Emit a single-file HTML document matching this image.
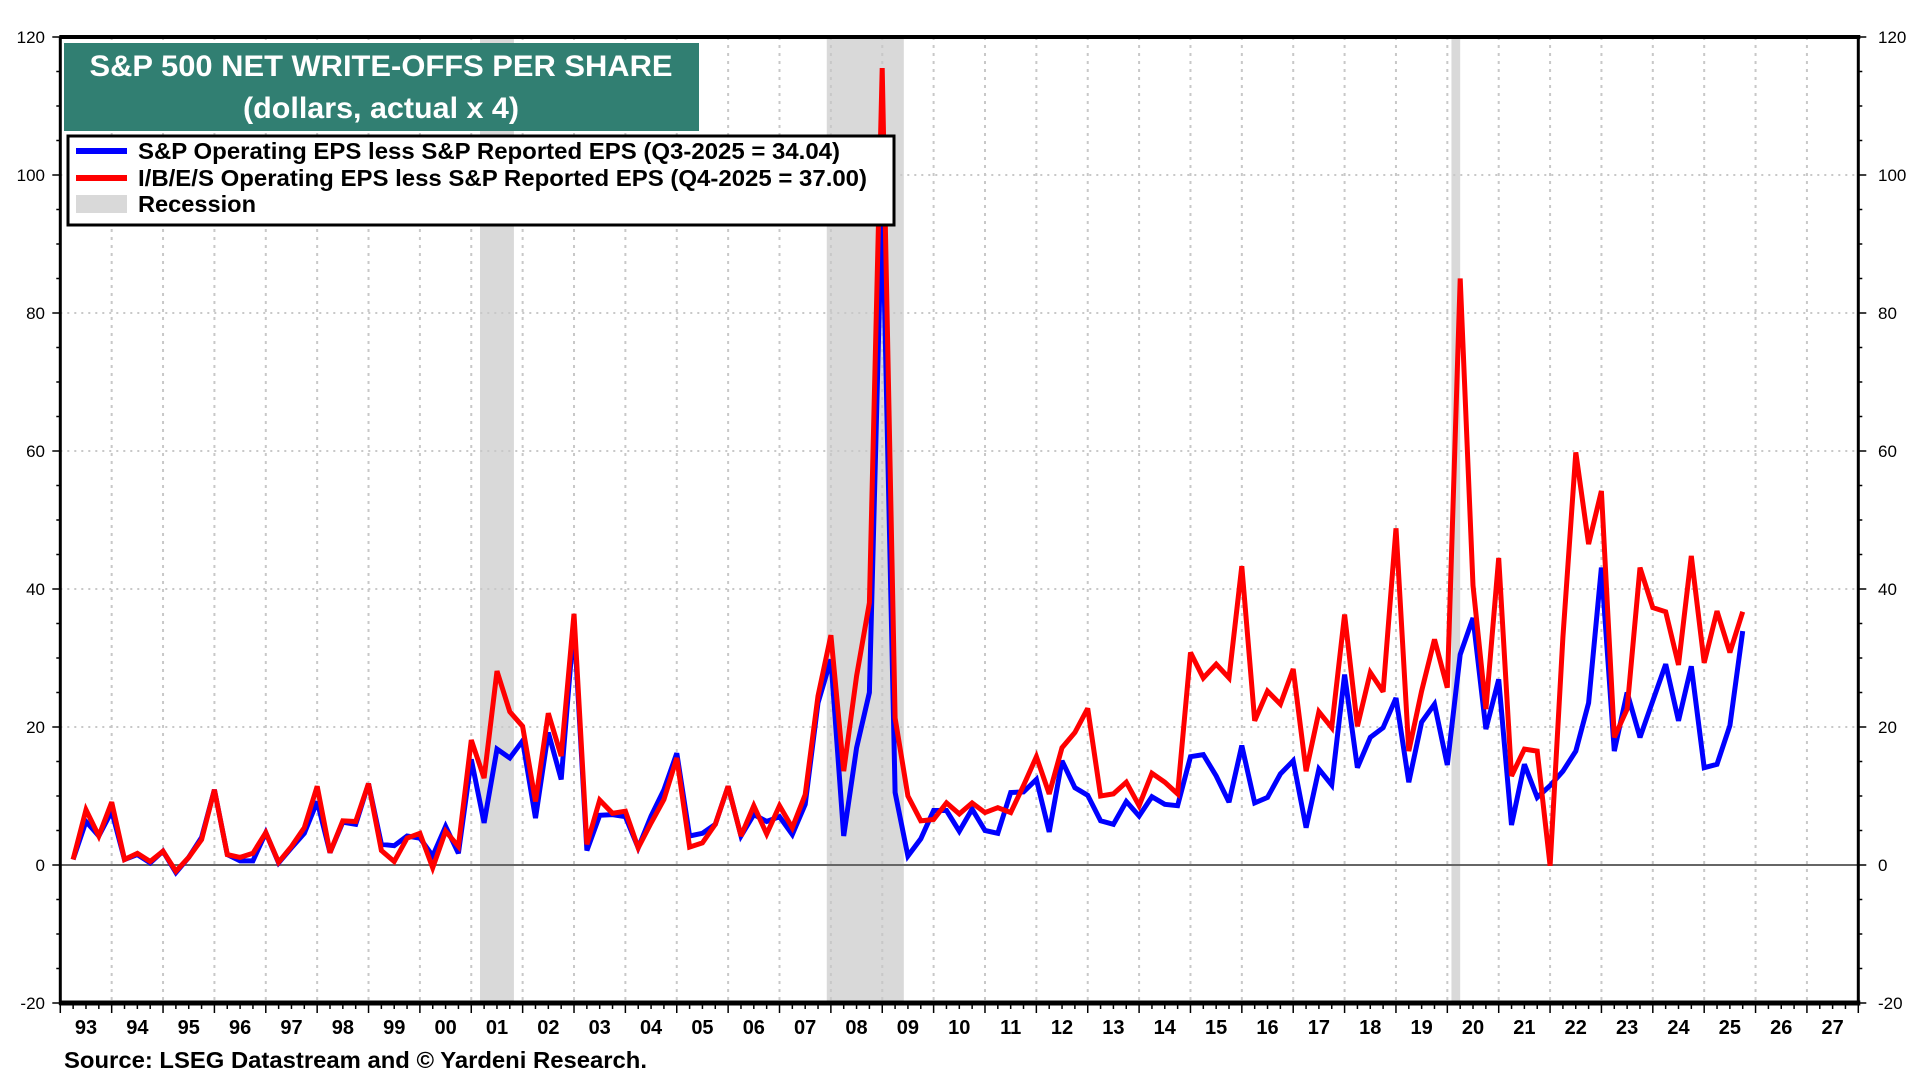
<!DOCTYPE html>
<html><head><meta charset="utf-8"><style>
html,body{margin:0;padding:0;background:#fff;width:1920px;height:1080px;overflow:hidden}
svg{display:block}
text{font-family:"Liberation Sans Narrow","Liberation Sans",sans-serif}
</style></head><body>
<svg id="chart" width="1920" height="1080" viewBox="0 0 1920 1080" xmlns="http://www.w3.org/2000/svg">
<g id="recessions"></g>
<g id="grid"></g>
<g id="series"></g>
<g id="axes"></g>
<g>
<rect x="64" y="43" width="635" height="88" fill="#317f72"/>
<text x="381" y="76" fill="#fff" font-size="30" font-weight="bold" text-anchor="middle" textLength="583" lengthAdjust="spacingAndGlyphs">S&amp;P 500 NET WRITE-OFFS PER SHARE</text>
<text x="381" y="118" fill="#fff" font-size="30" font-weight="bold" text-anchor="middle" textLength="276" lengthAdjust="spacingAndGlyphs">(dollars, actual x 4)</text>
</g>
<g>
<rect x="68" y="136" width="826" height="89" fill="#fff" stroke="#000" stroke-width="3"/>
<g><line x1="76" y1="151" x2="127" y2="151" stroke="#0000ff" stroke-width="6"/><text x="138" y="159" font-size="23" font-weight="bold" textLength="702" lengthAdjust="spacingAndGlyphs">S&amp;P Operating EPS less S&amp;P Reported EPS (Q3-2025 = 34.04)</text></g>
<g><line x1="76" y1="178" x2="127" y2="178" stroke="#ff0000" stroke-width="6"/><text x="138" y="186" font-size="23" font-weight="bold" textLength="729" lengthAdjust="spacingAndGlyphs">I/B/E/S Operating EPS less S&amp;P Reported EPS (Q4-2025 = 37.00)</text></g>
<g><rect x="76" y="195" width="51" height="18" fill="#d9d9d9"/><text x="138" y="212" font-size="23" font-weight="bold" textLength="118" lengthAdjust="spacingAndGlyphs">Recession</text></g>
</g>
<text x="64" y="1068" font-size="23" font-weight="bold" textLength="583" lengthAdjust="spacingAndGlyphs">Source: LSEG Datastream and © Yardeni Research.</text>
</svg>
<script>
const startYear = 1993;
const redValues = [0.8,8.0,4.2,9.1, 0.8,1.7,0.5,2.0, -0.9,1.1,3.7,10.9, 1.5,1.1,1.7,4.7, 0.4,2.7,5.4,11.4, 1.8,6.4,6.3,11.8, 2.1,0.5,3.9,4.6, -0.4,4.9,2.7,18.1,
 12.6,28.1,22.2,20.1, 9.2,22.0,15.8,36.4, 3.0,9.4,7.5,7.8, 2.5,6.1,9.5,15.5, 2.6,3.2,5.9,11.4, 4.2,8.6,4.5,8.6, 5.4,10.2,24.5,33.3, 13.6,27.4,38.0,115.5,
 21.3,10.0,6.4,6.6, 9.0,7.4,9.0,7.6, 8.3,7.6,11.5,15.7, 10.3,17.0,19.2,22.7, 10.0,10.3,12.0,8.6, 13.3,12.0,10.3,30.8, 27.1,29.1,27.1,43.3, 20.9,25.2,23.3,28.4,
 13.6,22.2,19.9,36.3, 20.1,27.9,25.1,48.8, 16.5,25.2,32.7,25.7, 85,40.5,22.6,44.5, 12.9,16.8,16.5,-0.1, 33,59.8,46.5,54.2, 18.5,22.6,43.1,37.3, 36.7,29.0,44.8,29.3, 36.8,30.8,36.7];
const blueValues = [0.8,6.3,4.2,7.8, 0.8,1.5,0.3,2.0, -1.1,1.1,4.0,10.9, 1.5,0.6,0.6,4.7, 0.3,2.5,4.6,9.2, 1.8,6.2,5.9,11.8, 3.0,2.8,4.2,3.9, 1.3,5.6,1.7,15.3,
 6.1,16.8,15.5,18.0, 6.8,19.2,12.4,35.0, 2.1,7.2,7.3,7.0, 2.5,7.1,10.9,16.2, 4.2,4.6,5.9,11.4, 4.2,7.3,6.3,7.0, 4.4,8.8,23.5,29.8, 4.2,17.0,25.0,97,
 10.5,1.3,3.8,7.9, 7.9,4.9,8.1,5.0, 4.6,10.5,10.6,12.4, 4.8,15.1,11.2,10.1, 6.4,5.9,9.2,7.1, 9.9,8.8,8.6,15.7, 16.0,12.9,9.1,17.3, 9.0,9.8,13.2,15.1,
 5.4,13.9,11.6,27.6, 14.1,18.5,19.9,24.2, 12.0,20.7,23.3,14.5, 30.5,35.8,19.7,26.9, 5.8,14.6,9.8,11.5, 13.6,16.5,23.5,43.1, 16.5,25.0,18.5,23.8, 29.1,20.9,28.8,14.1, 14.6,20.2,33.9];
const recessionStarts = [2001.17, 2007.92, 2020.08];
const recessionEnds = [2001.83, 2009.42, 2020.25];
const yTicks = [-20,0,20,40,60,80,100,120];
const yearLabels = ["93","94","95","96","97","98","99","00","01","02","03","04","05","06","07","08","09","10","11","12","13","14","15","16","17","18","19","20","21","22","23","24","25","26","27"];

const NS = "http://www.w3.org/2000/svg";
const L = 60.3, R = 1858.3, T = 37, B = 1003;
const X = t => L + (t - startYear) * (R - L) / 35;
const Y = v => 865 - v * 6.9;
function mk(parent, tag, attrs) {
  const e = document.createElementNS(NS, tag);
  for (const k in attrs) e.setAttribute(k, attrs[k]);
  parent.appendChild(e); return e;
}
const gRec = document.getElementById('recessions');
const gGrid = document.getElementById('grid');
const gSer = document.getElementById('series');
const gAx = document.getElementById('axes');

recessionStarts.forEach((s, i) => {
  const r = mk(gRec, 'rect', {x: X(s), y: T, width: X(recessionEnds[i]) - X(s), height: B - T, fill: '#d9d9d9'});
  
  
});
yearLabels.forEach((lab, i) => {
  if (i > 0) {
    const gl = mk(gGrid, 'line', {x1: X(startYear + i), x2: X(startYear + i), y1: T, y2: B, stroke: '#c8c8c8', 'stroke-width': 2, 'stroke-dasharray': '3,5'});
    
    
  }
});
yTicks.forEach(v => {
  if (v !== 0 && v !== -20 && v !== 120) {
    const gl = mk(gGrid, 'line', {x1: L, x2: R, y1: Y(v), y2: Y(v), stroke: '#c8c8c8', 'stroke-width': 2, 'stroke-dasharray': '2,5'});
    
    
  }
});
const zl = mk(gGrid, 'line', {x1: L, x2: R, y1: Y(0), y2: Y(0), stroke: '#666', 'stroke-width': 2});



function pts(arr) { return arr.map((v, i) => X(startYear + (i + 1) / 4).toFixed(1) + ',' + Y(v).toFixed(1)).join(' '); }
const bl = mk(gSer, 'polyline', {points: pts(blueValues), fill: 'none', stroke: '#0000ff', 'stroke-width': 5, 'stroke-linejoin': 'miter', 'stroke-miterlimit': 3});


const rl = mk(gSer, 'polyline', {points: pts(redValues), fill: 'none', stroke: '#ff0000', 'stroke-width': 5, 'stroke-linejoin': 'miter', 'stroke-miterlimit': 3});



mk(gAx, 'line', {x1: L-1, x2: R+2, y1: T, y2: T, stroke: '#000', 'stroke-width': 4});
mk(gAx, 'line', {x1: L-1, x2: R+2, y1: B, y2: B, stroke: '#000', 'stroke-width': 5});
mk(gAx, 'line', {x1: L, x2: L, y1: T, y2: B+2, stroke: '#000', 'stroke-width': 3});
mk(gAx, 'line', {x1: R, x2: R, y1: T, y2: B+2, stroke: '#000', 'stroke-width': 3});
for (let v = -20; v <= 120; v += 5) {
  const major = v % 20 === 0;
  mk(gAx, 'line', {x1: L - (major ? 8 : 4), x2: L, y1: Y(v), y2: Y(v), stroke: '#000', 'stroke-width': 1.5});
  mk(gAx, 'line', {x1: R, x2: R + (major ? 8 : 4), y1: Y(v), y2: Y(v), stroke: '#000', 'stroke-width': 1.5});
}
yTicks.forEach(v => {
  const tl = mk(gAx, 'text', {x: 45, y: Y(v) + 6, 'font-size': 17, 'text-anchor': 'end'});
  tl.textContent = v;
  
  
  const tr = mk(gAx, 'text', {x: 1878, y: Y(v) + 6, 'font-size': 17, 'text-anchor': 'start'});
  tr.textContent = v;
  
  
});
for (let q = 0; q <= 35 * 4; q++) {
  const major = q % 4 === 0;
  mk(gAx, 'line', {x1: X(startYear + q / 4), x2: X(startYear + q / 4), y1: B, y2: B + (major ? 10 : 6), stroke: '#000', 'stroke-width': 1.5});
}
yearLabels.forEach((lab, i) => {
  const t = mk(gAx, 'text', {x: X(startYear + i + 0.5), y: 1034, 'font-size': 20, 'font-weight': 'bold', 'text-anchor': 'middle'});
  t.textContent = lab;
  
  
});
</script>
</body></html>
